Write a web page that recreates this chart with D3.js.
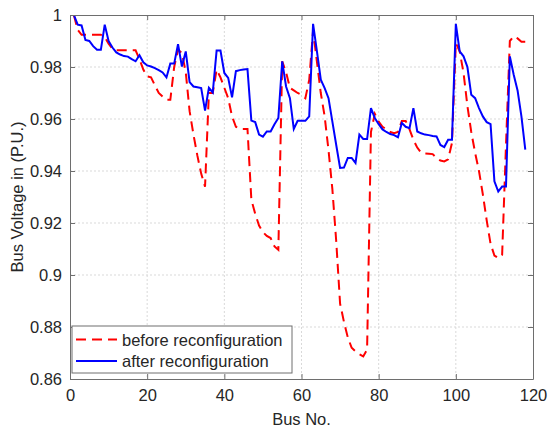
<!DOCTYPE html>
<html>
<head>
<meta charset="utf-8">
<script src="https://cdn.jsdelivr.net/npm/d3@7"></script>
<style>
  body { margin: 0; background: #fff; }
  svg text { font-family: "Liberation Sans", Arial, sans-serif; fill: #262626; }
</style>
</head>
<body>
<div id="chart"></div>
<script>
// bus voltages (p.u.), bus 1..118
const before = [
  1.000, 0.9943, 0.9924, 0.9924, 0.9924, 0.9924, 0.9924, 0.9924, 0.9915, 0.989,
  0.987, 0.9864, 0.9864, 0.9864, 0.9864, 0.9864, 0.9864, 0.983, 0.979, 0.9764,
  0.976, 0.973, 0.970, 0.9686, 0.9674, 0.9674, 0.980, 0.9867, 0.9854, 0.978,
  0.963, 0.954, 0.946, 0.939, 0.934, 0.970, 0.970, 0.979, 0.976, 0.972,
  0.968, 0.961, 0.957, 0.9562, 0.9562, 0.9562, 0.929, 0.9235, 0.919, 0.9165,
  0.915, 0.9142, 0.911, 0.9097, 0.9822, 0.978, 0.972, 0.971, 0.970, 0.9693,
  0.968, 0.975, 0.994, 0.982, 0.970, 0.961, 0.948, 0.933, 0.913, 0.889,
  0.882, 0.876, 0.872, 0.8706, 0.8695, 0.8687, 0.8713, 0.955, 0.962, 0.959,
  0.957, 0.956, 0.955, 0.9545, 0.955, 0.9592, 0.9592, 0.956, 0.952, 0.949,
  0.947, 0.9467, 0.9466, 0.9465, 0.945, 0.944, 0.9437, 0.9445, 0.9508, 0.9892,
  0.986, 0.9777, 0.965, 0.955, 0.947, 0.940, 0.931, 0.921, 0.912, 0.9075,
  0.9065, 0.9078, 0.950, 0.990, 0.9918, 0.991, 0.9897, 0.9897
];
const after = [
  1.000, 0.9963, 0.996, 0.9904, 0.990, 0.988, 0.9866, 0.9866, 0.9963, 0.990,
  0.9875, 0.9856, 0.9848, 0.9842, 0.984, 0.983, 0.9822, 0.9845, 0.9818, 0.9806,
  0.9802, 0.9796, 0.9788, 0.9779, 0.976, 0.9813, 0.9813, 0.9888, 0.9802, 0.986,
  0.9742, 0.9725, 0.9722, 0.9719, 0.9632, 0.972, 0.9702, 0.9863, 0.9863, 0.9777,
  0.9758, 0.9683, 0.9784, 0.9788, 0.979, 0.9792, 0.9594, 0.9588, 0.954, 0.9532,
  0.9552, 0.9552, 0.958, 0.9604, 0.9822, 0.9725, 0.968, 0.9562, 0.9593, 0.9593,
  0.9593, 0.961, 0.9966, 0.986, 0.9751, 0.9719, 0.968, 0.959, 0.950, 0.9412,
  0.9413, 0.945, 0.945, 0.9431, 0.954, 0.9523, 0.9523, 0.9642, 0.9604, 0.958,
  0.956, 0.955, 0.9542, 0.9538, 0.953, 0.9585, 0.957, 0.9565, 0.9642, 0.9552,
  0.9545, 0.954, 0.9538, 0.9535, 0.9533, 0.950, 0.9492, 0.952, 0.952, 0.9966,
  0.986, 0.9841, 0.980, 0.9693, 0.968, 0.9642, 0.961, 0.9588, 0.958, 0.936,
  0.9321, 0.934, 0.934, 0.9841, 0.977, 0.971, 0.961, 0.9482
];
const xTicks = [0, 20, 40, 60, 80, 100, 120];
const yTicks = [0.86, 0.88, 0.9, 0.92, 0.94, 0.96, 0.98, 1];
const seriesNames = ["before reconfiguration", "after reconfiguration"];

const W = 548, H = 431;
const margin = { left: 70, right: 15, top: 15, bottom: 52 };
const iw = W - margin.left - margin.right;
const ih = H - margin.top - margin.bottom;
const fs = 16.5;

const svg = d3.select("#chart").append("svg")
  .attr("width", W).attr("height", H);

const x = d3.scaleLinear().domain([0, 120]).range([margin.left, margin.left + iw]);
const y = d3.scaleLinear().domain([0.86, 1]).range([margin.top + ih, margin.top]);

// grid
const grid = svg.append("g").attr("stroke", "#d9d9d9").attr("stroke-width", 1)
  .attr("stroke-dasharray", "2,2");
grid.selectAll(".gx").data(xTicks.slice(1, -1)).enter().append("line")
  .attr("x1", d => x(d)).attr("x2", d => x(d))
  .attr("y1", margin.top).attr("y2", margin.top + ih);
grid.selectAll(".gy").data(yTicks.slice(1, -1)).enter().append("line")
  .attr("x1", margin.left).attr("x2", margin.left + iw)
  .attr("y1", d => y(d)).attr("y2", d => y(d));

// lines
svg.append("clipPath").attr("id", "clip").append("rect")
  .attr("x", margin.left).attr("y", margin.top).attr("width", iw).attr("height", ih);

const dash = "10,6";
const line = d3.line().x((d, i) => x(i + 1)).y(d => y(d));
svg.append("path").datum(before)
  .attr("clip-path", "url(#clip)")
  .attr("fill", "none").attr("stroke", "#ff0000").attr("stroke-width", 2)
  .attr("stroke-dasharray", dash)
  .attr("d", line);
svg.append("path").datum(after)
  .attr("clip-path", "url(#clip)")
  .attr("fill", "none").attr("stroke", "#0000ff").attr("stroke-width", 2)
  .attr("d", line);

// axes (box with inward ticks on all sides)
const axColor = "#6e6e6e";
const tl = 5;
svg.append("g").attr("transform", `translate(0,${margin.top + ih})`)
  .call(d3.axisBottom(x).tickValues(xTicks).tickSizeInner(-tl).tickSizeOuter(0).tickPadding(10))
  .call(g => g.selectAll("text").attr("font-size", fs));
svg.append("g").attr("transform", `translate(0,${margin.top})`)
  .call(d3.axisTop(x).tickValues(xTicks).tickSizeInner(-tl).tickSizeOuter(0))
  .call(g => g.selectAll("text").remove());
svg.append("g").attr("transform", `translate(${margin.left},0)`)
  .call(d3.axisLeft(y).tickValues(yTicks).tickSizeInner(-tl).tickSizeOuter(0).tickPadding(8)
    .tickFormat(d3.format("~g")))
  .call(g => g.selectAll("text").attr("font-size", fs));
svg.append("g").attr("transform", `translate(${margin.left + iw},0)`)
  .call(d3.axisRight(y).tickValues(yTicks).tickSizeInner(-tl).tickSizeOuter(0))
  .call(g => g.selectAll("text").remove());
svg.selectAll(".domain").attr("stroke", axColor);
svg.selectAll(".tick line").attr("stroke", axColor);

// axis labels
svg.append("text")
  .attr("x", margin.left + iw / 2).attr("y", 425)
  .attr("text-anchor", "middle").attr("font-size", fs)
  .text("Bus No.");
svg.append("text")
  .attr("transform", `translate(23,${margin.top + ih / 2}) rotate(-90)`)
  .attr("text-anchor", "middle").attr("font-size", fs)
  .text("Bus Voltage in (P.U.)");

// legend
const lg = svg.append("g").attr("transform", "translate(72,326)");
lg.append("rect").attr("width", 220).attr("height", 47)
  .attr("fill", "#fff").attr("stroke", axColor).attr("stroke-width", 1);
const entries = [
  { name: seriesNames[0], color: "#ff0000", dash: dash },
  { name: seriesNames[1], color: "#0000ff", dash: null }
];
entries.forEach((e, i) => {
  const yy = 13.5 + i * 21.5;
  lg.append("line").attr("x1", 4).attr("x2", 45).attr("y1", yy).attr("y2", yy)
    .attr("stroke", e.color).attr("stroke-width", 2)
    .attr("stroke-dasharray", e.dash);
  lg.append("text").attr("x", 50).attr("y", yy + 6).attr("font-size", fs).text(e.name);
});
</script>
</body>
</html>
